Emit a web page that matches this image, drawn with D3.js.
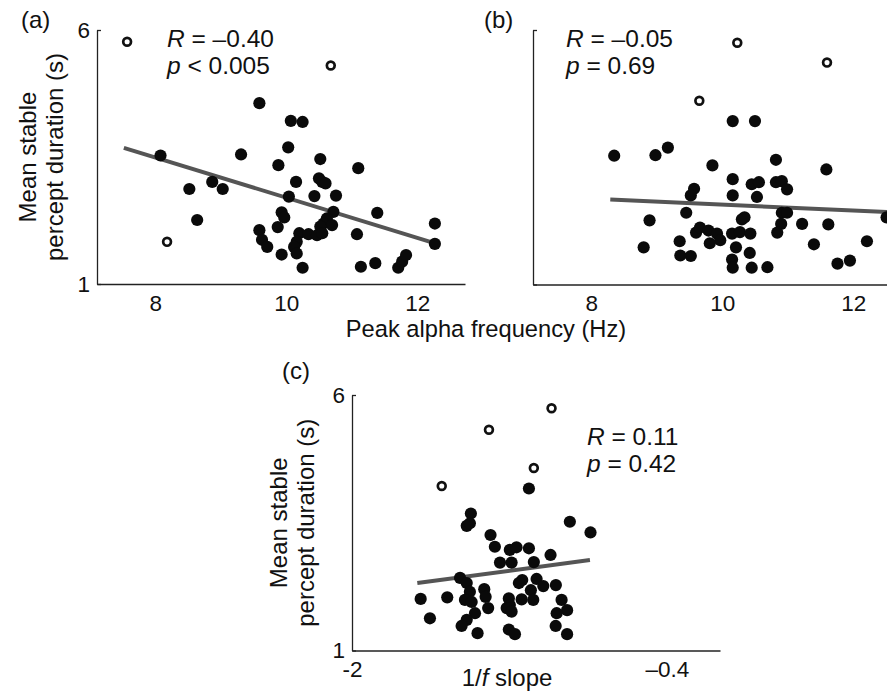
<!DOCTYPE html>
<html>
<head>
<meta charset="utf-8">
<script src="https://cdn.jsdelivr.net/npm/d3@7"></script>
<style>
  body { margin: 0; background: #fff; }
  svg { display: block; }
  text { font-family: "Liberation Sans", Arial, Helvetica, sans-serif; fill: #111; }
</style>
</head>
<body>
<div id="chart"></div>
<script>
// (a) peak alpha frequency vs duration, filled = included, open = outliers
let alphaA = [9.59, 10.07, 10.25, 10.03, 9.31, 9.88, 10.52, 11.10, 10.15, 10.50, 10.55, 10.60, 9.03, 10.04, 10.43, 10.76, 9.93, 9.97, 10.72, 11.39, 10.62, 10.57, 10.52, 10.70, 9.59, 9.63, 9.71, 9.87, 10.20, 10.16, 10.12, 10.16, 10.34, 10.47, 10.55, 11.08, 9.93, 10.25, 11.14, 11.36, 11.71, 11.77, 11.83, 8.08, 8.52, 8.87, 8.64, 12.27, 12.27];
let durA = [4.56, 4.21, 4.19, 3.69, 3.55, 3.34, 3.46, 3.28, 3.01, 3.08, 3.01, 2.98, 2.87, 2.72, 2.73, 2.74, 2.41, 2.31, 2.42, 2.40, 2.29, 2.19, 2.13, 2.16, 2.06, 1.87, 1.73, 2.12, 2.00, 1.83, 1.73, 1.60, 1.98, 1.96, 2.00, 1.98, 1.58, 1.32, 1.34, 1.41, 1.32, 1.44, 1.57, 3.53, 2.87, 3.01, 2.26, 2.19, 1.79];
let alphaOutA = [7.57, 10.68, 8.18];
let durOutA = [5.77, 5.30, 1.83];
let fitXA = [7.52, 12.25];
let fitYA = [3.68, 1.81];

// (b)
let alphaB = [10.16, 10.50, 8.35, 8.98, 9.17, 9.85, 10.82, 11.59, 10.16, 10.45, 10.56, 10.82, 10.91, 10.99, 9.57, 9.52, 10.16, 10.53, 9.45, 10.91, 10.99, 8.89, 10.30, 10.34, 11.22, 11.62, 10.90, 10.84, 12.51, 9.60, 9.66, 9.79, 9.92, 9.97, 10.15, 10.27, 10.43, 9.35, 8.80, 9.81, 10.21, 11.40, 12.21, 9.36, 9.52, 10.42, 10.15, 10.16, 10.45, 10.69, 11.76, 11.95];
let durB = [4.21, 4.21, 3.53, 3.54, 3.69, 3.34, 3.45, 3.26, 3.07, 2.97, 3.01, 3.01, 3.03, 2.87, 2.88, 2.75, 2.75, 2.72, 2.41, 2.41, 2.41, 2.26, 2.28, 2.32, 2.19, 2.18, 2.19, 2.02, 2.32, 2.02, 2.12, 2.06, 2.00, 1.87, 2.00, 2.03, 2.00, 1.85, 1.73, 1.81, 1.73, 1.79, 1.85, 1.57, 1.56, 1.62, 1.49, 1.33, 1.33, 1.34, 1.41, 1.47];
let alphaOutB = [10.23, 11.60, 9.65];
let durOutB = [5.75, 5.36, 4.61];
let fitXB = [8.29, 12.73];
let fitYB = [2.67, 2.41];

// (c) 1/f slope
let slopeC = [-1.101, -1.396, -1.417, -1.401, -0.893, -0.788, -1.296, -1.274, -1.198, -1.164, -1.101, -0.991, -1.248, -1.189, -1.076, -1.451, -1.417, -1.401, -1.135, -1.152, -1.062, -1.028, -0.964, -1.328, -1.321, -1.651, -1.516, -1.091, -1.079, -1.138, -1.203, -1.198, -1.426, -1.392, -0.935, -0.907, -1.308, -1.214, -1.189, -1.375, -1.417, -0.960, -1.604, -1.443, -0.965, -1.362, -1.203, -1.172, -0.907];
let durC = [4.17, 3.68, 3.44, 3.49, 3.52, 3.31, 3.26, 3.03, 2.97, 3.02, 3.00, 2.87, 2.72, 2.72, 2.73, 2.42, 2.32, 2.15, 2.38, 2.32, 2.40, 2.26, 2.28, 2.20, 2.05, 2.01, 2.04, 2.18, 1.99, 2.00, 2.02, 1.89, 1.99, 1.95, 1.99, 1.79, 1.83, 1.83, 1.76, 1.73, 1.60, 1.73, 1.63, 1.48, 1.48, 1.34, 1.41, 1.32, 1.32];
let slopeOutC = [-0.986, -1.304, -1.076, -1.544];
let durOutC = [5.74, 5.32, 4.57, 4.22];
let fitXC = [-1.668, -0.791];
let fitYC = [2.32, 2.77];

let alphaTicks = [8, 10, 12];
let slopeTicks = [-2, -0.4];
let slopeTickLabels = ['-2', '\u20130.4'];
let durTicks = [1, 6];

let width = 887,
    height = 691;

let $svg = d3.select('#chart')
  .append('svg')
  .attr('width', width)
  .attr('height', height);

function zip(xs, ys) {
  return xs.map((d, i) => [d, ys[i]]);
}

function drawPanel(p) {
  let x = d3.scaleLinear().domain(p.xDomain).range(p.xRange);
  let y = d3.scaleLinear().domain([1, 6]).range(p.yRange);

  let $g = $svg.append('g');

  let $xAxis = $g.append('g')
    .attr('transform', `translate(0,${p.yRange[0]})`)
    .call(d3.axisBottom(x)
      .tickValues(p.xTicks)
      .tickFormat(p.xFormat)
      .tickSize(0)
      .tickPadding(11));

  let $yAxis = $g.append('g')
    .attr('transform', `translate(${p.xRange[0]},0)`)
    .call(d3.axisLeft(y)
      .tickValues(durTicks)
      .tickFormat(p.yLabels ? d3.format('d') : () => '')
      .tickSizeInner(-4)
      .tickSizeOuter(0)
      .tickPadding(7));

  [$xAxis, $yAxis].forEach($a => {
    $a.attr('font-family', null).attr('font-size', null);
    $a.select('.domain').attr('stroke', '#222').attr('stroke-width', 1.3);
    $a.selectAll('.tick line').attr('stroke', '#222').attr('stroke-width', 1.3);
    $a.selectAll('.tick text').style('font-size', '22.5px').attr('fill', '#111');
  });

  // regression line
  $g.append('path')
    .datum(zip(p.fitX, p.fitY))
    .attr('d', d3.line().x(d => x(d[0])).y(d => y(d[1])))
    .attr('fill', 'none')
    .attr('stroke', '#555')
    .attr('stroke-width', 4);

  $g.selectAll('.dot')
    .data(zip(p.xs, p.ys))
    .enter()
    .append('circle')
    .classed('dot', true)
    .attr('cx', d => x(d[0]))
    .attr('cy', d => y(d[1]))
    .attr('r', 6.1)
    .attr('fill', '#0a0a0a');

  $g.selectAll('.outlier')
    .data(zip(p.outX, p.outY))
    .enter()
    .append('circle')
    .classed('outlier', true)
    .attr('cx', d => x(d[0]))
    .attr('cy', d => y(d[1]))
    .attr('r', 3.9)
    .attr('fill', '#fff')
    .attr('stroke', '#111')
    .attr('stroke-width', 2.7);

  // R / p text
  let $stats = $g.append('text')
    .attr('x', p.statPos[0])
    .attr('y', p.statPos[1])
    .style('font-size', '24.5px');
  $stats.append('tspan').style('font-style', 'italic').text('R');
  $stats.append('tspan').text(' = ' + p.rText);

  let $pval = $g.append('text')
    .attr('x', p.statPos[0])
    .attr('y', p.statPos[1] + 26.5)
    .style('font-size', '24.5px');
  $pval.append('tspan').style('font-style', 'italic').text('p');
  $pval.append('tspan').text(p.pText);

  $g.append('text')
    .attr('x', p.labelPos[0])
    .attr('y', p.labelPos[1])
    .style('font-size', '24px')
    .text(p.label);

  if (p.yTitle) {
    let cy = (p.yRange[0] + p.yRange[1]) / 2;
    ['Mean stable', 'percept duration (s)'].forEach((t, i) => {
      $g.append('text')
        .attr('transform', `translate(${p.yTitle + i * 26.5},${cy}) rotate(-90)`)
        .attr('text-anchor', 'middle')
        .style('font-size', '24px')
        .text(t);
    });
  }
}

drawPanel({
  label: '(a)', labelPos: [21, 28],
  xs: alphaA, ys: durA, outX: alphaOutA, outY: durOutA, fitX: fitXA, fitY: fitYA,
  xDomain: [7.11, 12.73], xRange: [97, 465], yRange: [284, 30],
  xTicks: alphaTicks, xFormat: d3.format('d'), yLabels: true, yTitle: 36,
  statPos: [167, 47], rText: '\u20130.40', pText: ' < 0.005'
});

drawPanel({
  label: '(b)', labelPos: [484, 28],
  xs: alphaB, ys: durB, outX: alphaOutB, outY: durOutB, fitX: fitXB, fitY: fitYB,
  xDomain: [7.11, 12.73], xRange: [533, 901], yRange: [284.5, 30],
  xTicks: alphaTicks, xFormat: d3.format('d'), yLabels: false,
  statPos: [566, 47], rText: '\u20130.05', pText: ' = 0.69'
});

drawPanel({
  label: '(c)', labelPos: [282, 379],
  xs: slopeC, ys: durC, outX: slopeOutC, outY: durOutC, fitX: fitXC, fitY: fitYC,
  xDomain: [-2, -0.13], xRange: [352, 720], yRange: [650.5, 395],
  xTicks: slopeTicks, xFormat: (d, i) => slopeTickLabels[i], yLabels: true, yTitle: 287,
  statPos: [587, 445], rText: '0.11', pText: ' = 0.42'
});

// shared x title for (a) and (b)
$svg.append('text')
  .attr('x', 486)
  .attr('y', 337)
  .attr('text-anchor', 'middle')
  .style('font-size', '23.7px')
  .text('Peak alpha frequency (Hz)');

let $slopeTitle = $svg.append('text')
  .attr('x', 507)
  .attr('y', 686)
  .attr('text-anchor', 'middle')
  .style('font-size', '24px');
$slopeTitle.append('tspan').text('1/');
$slopeTitle.append('tspan').style('font-style', 'italic').text('f');
$slopeTitle.append('tspan').text(' slope');
</script>
</body>
</html>
